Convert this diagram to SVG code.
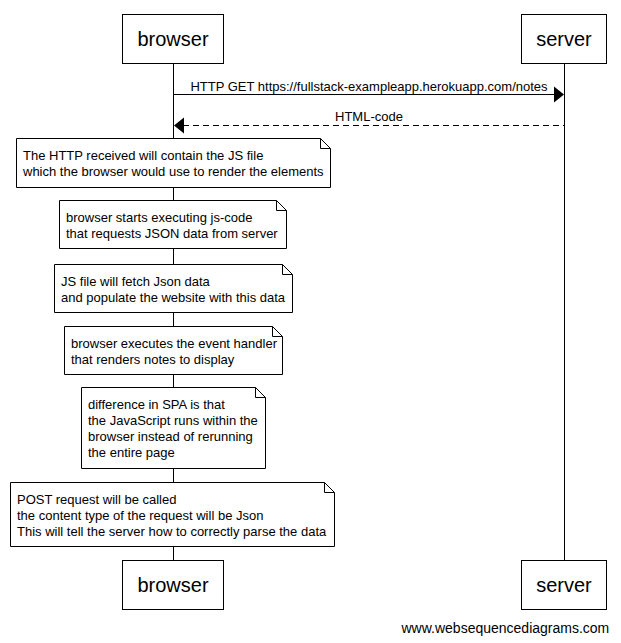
<svg xmlns="http://www.w3.org/2000/svg" width="621" height="643" viewBox="0 0 621 643">
<style>
text{font-family:"Liberation Sans",Arial,sans-serif;fill:#000}
.actor rect{fill:#fff;stroke:#000;stroke-width:1}
.actor text{font-size:20px;text-anchor:middle}
.note path{fill:#fff;stroke:#000;stroke-width:1}
.note text{font-size:13px}
.msg{font-size:13px;text-anchor:middle}
.life{stroke:#000;stroke-width:1}
</style>
<rect width="621" height="643" fill="#fff"/>
<g id="lifelines">
<line class="life" x1="173.5" y1="64" x2="173.5" y2="560"/>
<line class="life" x1="564.5" y1="64" x2="564.5" y2="560"/>
</g>
<g id="browser-top" class="actor"><rect x="122.5" y="14.5" width="101" height="49"/><text x="173" y="46">browser</text></g>
<g id="server-top" class="actor"><rect x="521.5" y="14.5" width="85" height="49"/><text x="564" y="46">server</text></g>
<g id="browser-bottom" class="actor"><rect x="122.5" y="560.5" width="101" height="49"/><text x="173" y="592">browser</text></g>
<g id="server-bottom" class="actor"><rect x="521.5" y="560.5" width="85" height="49"/><text x="564" y="592">server</text></g>
<g id="connectors">
<line x1="173.5" y1="94.5" x2="555" y2="94.5" stroke="#000"/>
<polygon points="564,94.5 554,86.5 554,102.5" fill="#000"/>
<text class="msg" x="369" y="91">HTTP GET https://fullstack-exampleapp.herokuapp.com/notes</text>
<line x1="183" y1="125.5" x2="564.5" y2="125.5" stroke="#000" stroke-dasharray="6,4"/>
<polygon points="174,125.5 184,117.5 184,133.5" fill="#000"/>
<text class="msg" x="369" y="121">HTML-code</text>
</g>
<g id="note1" class="note"><path d="M16.5 138.5H320.5L330.5 148.5V187.5H16.5Z M320.5 138.5V148.5H330.5"/><text x="23" y="159.5">The HTTP received will contain the JS file</text><text x="23" y="175.5">which the browser would use to render the elements</text></g>
<g id="note2" class="note"><path d="M59.5 200.5H276.5L286.5 210.5V248.5H59.5Z M276.5 200.5V210.5H286.5"/><text x="66" y="221.5">browser starts executing js-code</text><text x="66" y="237.5">that requests JSON data from server</text></g>
<g id="note3" class="note"><path d="M54.5 264.5H282.5L292.5 274.5V312.5H54.5Z M282.5 264.5V274.5H292.5"/><text x="61" y="285.5">JS file will fetch Json data</text><text x="61" y="301.5">and populate the website with this data</text></g>
<g id="note4" class="note"><path d="M64.5 326.5H272.5L282.5 336.5V374.5H64.5Z M272.5 326.5V336.5H282.5"/><text x="71" y="347.5">browser executes the event handler</text><text x="71" y="363.5">that renders notes to display</text></g>
<g id="note5" class="note"><path d="M81.5 387.5H255.5L265.5 397.5V468.5H81.5Z M255.5 387.5V397.5H265.5"/><text x="88" y="408.5">difference in SPA is that</text><text x="88" y="424.5">the JavaScript runs within the</text><text x="88" y="440.5">browser instead of rerunning</text><text x="88" y="456.5">the entire page</text></g>
<g id="note6" class="note"><path d="M10.5 482.5H324.5L334.5 492.5V546.5H10.5Z M324.5 482.5V492.5H334.5"/><text x="17" y="503.5">POST request will be called</text><text x="17" y="519.5">the content type of the request will be Json</text><text x="17" y="535.5">This will tell the server how to correctly parse the data</text></g>
<text x="401.5" y="633" font-size="14">www.websequencediagrams.com</text>
</svg>
